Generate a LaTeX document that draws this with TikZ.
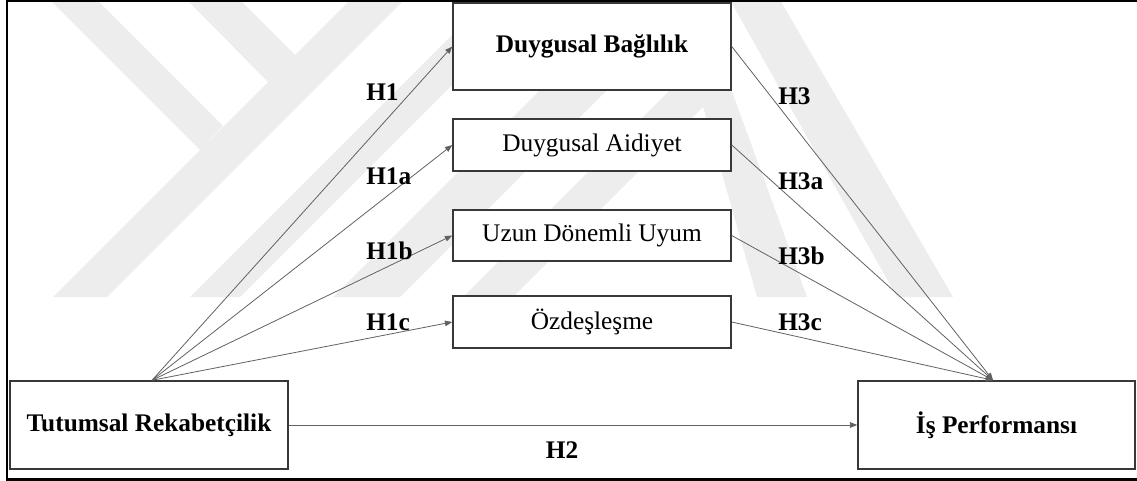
\documentclass[tikz,border=0pt]{standalone}
\usepackage{fontspec}
\setmainfont{Liberation Serif}
\usetikzlibrary{arrows.meta}
\begin{document}
\begin{tikzpicture}[x=0.75pt,y=-0.75pt,
  box/.style={draw=black!78, line width=1.1pt, fill=white, inner sep=0pt,
    minimum width=208.5pt, font=\fontsize{19}{22}\selectfont},
  boldbox/.style={box, font=\bfseries\fontsize{19}{22}\selectfont},
  lab/.style={font=\bfseries\fontsize{19}{22}\selectfont, anchor=west, inner sep=0pt},
  conn/.style={draw=black!62, line width=0.6pt, -{Triangle[length=5.5pt,width=4.2pt]}},
  wm/.style={fill=black!7, draw=none},
  frameline/.style={draw=black, line width=1.8pt}]
\useasboundingbox (0,0) rectangle (1137,481);
\clip (0,0) rectangle (1137,481);
% watermark
\fill[wm] (53,297)--(107,297)--(404,0)--(350,0)--cycle;
\fill[wm] (50,0)--(97,0)--(223,126)--(200,150)--cycle;
\fill[wm] (187,0)--(240,0)--(295,55)--(268,82)--cycle;
\fill[wm] (190,297)--(240,297)--(537,0)--(487,0)--cycle;
\fill[wm] (333,297)--(400,297)--(697,0)--(630,0)--cycle;
\fill[wm] (463,297)--(513,297)--(703,107)--(757,297)--(807,297)--(715,45)--cycle;
\fill[wm] (730,0)--(780,0)--(953,297)--(897,297)--cycle;
% boxes
\node[boldbox, minimum height=65.25pt] (db) at (592,46.5) {Duygusal Bağlılık};
\node[box, minimum height=39pt] (da) at (592,145) {Duygusal Aidiyet};
\node[box, minimum height=38.25pt] (udu) at (592,235.5) {Uzun Dönemli Uyum};
\node[box, minimum height=39pt] (oz) at (592,322) {Özdeşleşme};
\node[boldbox, minimum height=66pt] (tr) at (149,425) {Tutumsal Rekabetçilik};
\node[boldbox, minimum height=66pt, minimum width=207.75pt] (ip) at (996.5,425) {İş Performansı};
% connectors
\draw[conn] ([xshift=2.25pt]tr.north) -- (db.west);
\draw[conn] ([xshift=2.25pt]tr.north) -- (da.west);
\draw[conn] ([xshift=2.25pt]tr.north) -- (udu.west);
\draw[conn] ([xshift=2.25pt]tr.north) -- (oz.west);
\draw[conn] (db.east) -- ([xshift=-2.6pt]ip.north);
\draw[conn] (da.east) -- ([xshift=-2.6pt]ip.north);
\draw[conn] (udu.east) -- ([xshift=-2.6pt]ip.north);
\draw[conn] (oz.east) -- ([xshift=-2.6pt]ip.north);
\draw[conn] (tr.east) -- (ip.west);
% labels
\node[lab] (h1) at (366,92) {H1};
\node[lab] (h1a) at (366,176) {H1a};
\node[lab] (h1b) at (366,251) {H1b};
\node[lab] (h1c) at (366,322) {H1c};
\node[lab] (h3) at (778,96) {H3};
\node[lab] (h3a) at (778,181) {H3a};
\node[lab] (h3b) at (778,256) {H3b};
\node[lab] (h3c) at (778,322) {H3c};
\node[lab, anchor=center] (h2) at (562,450) {H2};
% frame
\draw[frameline] (1140,1.3) -- (7,1.3) -- (7,479.3) -- (1140,479.3);
\end{tikzpicture}
\end{document}
